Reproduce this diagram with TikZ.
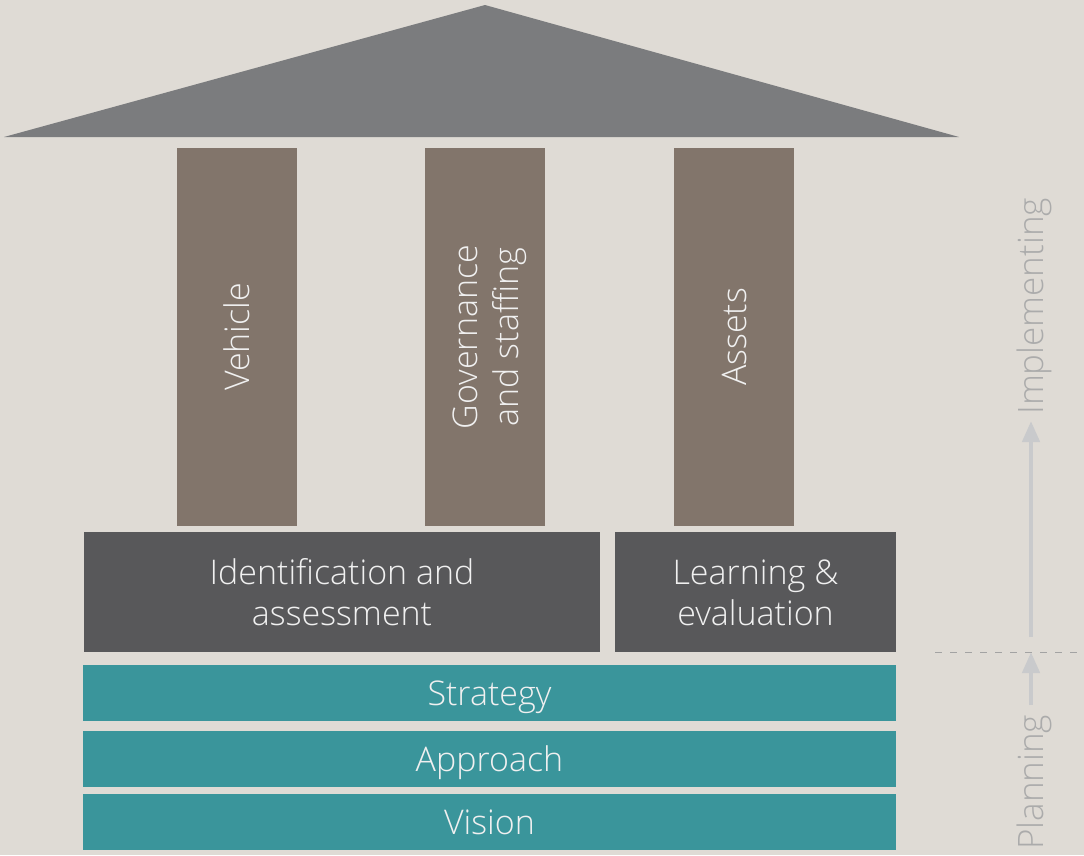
\documentclass[tikz,border=0pt]{standalone}
\usepackage{fontspec}
\setmainfont{Open Sans}[UprightFont={* Light}]
\usetikzlibrary{arrows.meta}
\definecolor{bg}{HTML}{DFDBD5}
\definecolor{roof}{HTML}{7B7C7E}
\definecolor{pillar}{HTML}{82756B}
\definecolor{darkbox}{HTML}{58585A}
\definecolor{teal}{HTML}{3A959B}
\definecolor{arr}{HTML}{C9CACC}
\definecolor{side}{HTML}{ABABAB}
\definecolor{dashc}{HTML}{A3A3A3}
\tikzset{
  box/.style={inner sep=0pt, outer sep=0pt, draw=none, text=white!94!black,
    font=\fontsize{34}{41}\selectfont, align=center, text height=25pt, text depth=0pt},
  twoline/.style={text height=66pt},
  pillarbox/.style={box, fill=pillar},
  basebox/.style={box, fill=darkbox},
  layerbox/.style={box, fill=teal},
  sidetext/.style={text=side, font=\fontsize{35}{41}\selectfont, inner sep=0pt, rotate=90},
  sidearrow/.style={draw=arr, line width=4.5pt, -{Triangle[length=21pt,width=17pt]}, shorten >=0pt},
}
\begin{document}
\begin{tikzpicture}[x=1pt,y=-1pt]
\fill[bg] (0,0) rectangle (1084,855);
\useasboundingbox (0,0) rectangle (1084,855);
% roof
\fill[roof] (4,137) -- (485,5) -- (959,137) -- cycle;
% pillars
\node[pillarbox, minimum width=120pt, minimum height=378pt] (p1) at (237,337) {};
\node[pillarbox, minimum width=120pt, minimum height=378pt] (p2) at (485,337) {};
\node[pillarbox, minimum width=120pt, minimum height=378pt] (p3) at (734,337) {};
\node[box, rotate=90] (t1) at (p1.center) {Vehicle};
\node[box, twoline, rotate=90] (t2) at (p2.center) {Governance\\and staffing};
\node[box, rotate=90] (t3) at (p3.center) {Assets};
% base blocks
\node[basebox, twoline, minimum width=516pt, minimum height=120pt] (ia) at (342,592) {Identification and\\assessment};
\node[basebox, twoline, minimum width=281pt, minimum height=120pt] (le) at (755.5,592) {Learning \&\\evaluation};
% layers
\node[layerbox, minimum width=813pt, minimum height=56pt] (strategy) at (489.5,693) {Strategy};
\node[layerbox, minimum width=813pt, minimum height=56pt] (approach) at (489.5,758.5) {Approach};
\node[layerbox, minimum width=813pt, minimum height=56pt] (vision) at (489.5,821.5) {Vision};
% side
\coordinate (dl) at (935,652.5);
\coordinate (dr) at (1084,652.5);
\draw[color=dashc, line width=1.5pt, dash pattern=on 7pt off 8pt] (dl) -- (dr);
\node[sidetext, anchor=base west] (impl) at (1043,415) {Implementing};
\node[sidetext, anchor=base west] (plan) at (1043,850) {Planning};
\coordinate (a1s) at (1031,637);
\coordinate (a1e) at (1031,421);
\coordinate (a2s) at (1031,705);
\coordinate (a2e) at (1031,652);
\draw[sidearrow] (a1s) -- (a1e);
\draw[sidearrow] (a2s) -- (a2e);
\end{tikzpicture}
\end{document}
